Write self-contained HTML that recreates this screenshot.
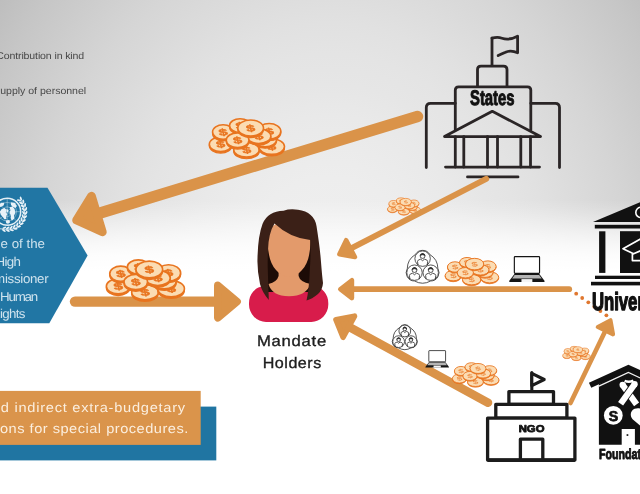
<!DOCTYPE html>
<html><head><meta charset="utf-8"><title>Extra-budgetary contributions</title>
<style>html,body{margin:0;padding:0;background:#fff;overflow:hidden}body{width:640px;height:494px;position:relative;font-family:"Liberation Sans",sans-serif}</style>
</head><body>
<svg width="640" height="494" viewBox="0 0 640 494" style="position:absolute;left:0;top:0;will-change:transform;text-rendering:geometricPrecision">
<defs>
<radialGradient id="vig" gradientUnits="userSpaceOnUse" cx="330" cy="300" r="600" gradientTransform="translate(330 300) scale(1 1.231) translate(-330 -300)"><stop offset="0.0000" stop-color="rgb(240,240,240)"/><stop offset="0.0417" stop-color="rgb(239,239,239)"/><stop offset="0.0833" stop-color="rgb(239,239,239)"/><stop offset="0.1250" stop-color="rgb(238,238,238)"/><stop offset="0.1667" stop-color="rgb(237,237,237)"/><stop offset="0.2083" stop-color="rgb(235,235,235)"/><stop offset="0.2500" stop-color="rgb(233,233,233)"/><stop offset="0.2917" stop-color="rgb(230,230,230)"/><stop offset="0.3333" stop-color="rgb(228,228,228)"/><stop offset="0.3750" stop-color="rgb(225,225,225)"/><stop offset="0.4167" stop-color="rgb(221,221,221)"/><stop offset="0.4583" stop-color="rgb(217,217,217)"/><stop offset="0.5000" stop-color="rgb(213,213,213)"/><stop offset="0.5417" stop-color="rgb(208,208,208)"/><stop offset="0.5833" stop-color="rgb(203,203,203)"/><stop offset="0.6250" stop-color="rgb(198,198,198)"/><stop offset="0.6667" stop-color="rgb(192,192,192)"/><stop offset="0.7083" stop-color="rgb(186,186,186)"/><stop offset="0.7500" stop-color="rgb(180,180,180)"/><stop offset="0.7917" stop-color="rgb(173,173,173)"/><stop offset="0.8333" stop-color="rgb(166,166,166)"/><stop offset="0.8750" stop-color="rgb(158,158,158)"/><stop offset="0.9167" stop-color="rgb(151,151,151)"/><stop offset="0.9583" stop-color="rgb(142,142,142)"/><stop offset="1.0000" stop-color="rgb(134,134,134)"/></radialGradient>
<linearGradient id="fade" gradientUnits="userSpaceOnUse" x1="0" y1="200" x2="0" y2="272"><stop offset="0.000" stop-color="#fff" stop-opacity="0"/><stop offset="0.111" stop-color="#fff" stop-opacity="0.12"/><stop offset="0.208" stop-color="#fff" stop-opacity="0.25"/><stop offset="0.347" stop-color="#fff" stop-opacity="0.45"/><stop offset="0.486" stop-color="#fff" stop-opacity="0.64"/><stop offset="0.625" stop-color="#fff" stop-opacity="0.8"/><stop offset="0.764" stop-color="#fff" stop-opacity="0.92"/><stop offset="0.903" stop-color="#fff" stop-opacity="0.98"/><stop offset="1.000" stop-color="#fff" stop-opacity="1"/></linearGradient>
<symbol id="coins" viewBox="-2 -2 81 45" overflow="visible"><ellipse cx="11.8" cy="28.200000000000003" rx="11.5" ry="7.4" fill="#e8741f" stroke="#e8741f" stroke-width="1.20"/><ellipse cx="11.8" cy="26.6" rx="11.5" ry="7.4" fill="#fbdcb3" stroke="#e8741f" stroke-width="1.6"/><text x="0" y="3.9" font-family="Liberation Sans, sans-serif" font-size="11" font-weight="bold" fill="#e8741f" fill-opacity="1.0" stroke="#e8741f" stroke-width="0.5" text-anchor="middle" transform="translate(11.8 26.6) scale(1.45 0.85) rotate(-8)">$</text><ellipse cx="38" cy="33.9" rx="13" ry="7.4" fill="#e8741f" stroke="#e8741f" stroke-width="1.20"/><ellipse cx="38" cy="32.3" rx="13" ry="7.4" fill="#fbdcb3" stroke="#e8741f" stroke-width="1.6"/><text x="0" y="3.9" font-family="Liberation Sans, sans-serif" font-size="11" font-weight="bold" fill="#e8741f" fill-opacity="1.0" stroke="#e8741f" stroke-width="0.5" text-anchor="middle" transform="translate(38 32.3) scale(1.45 0.85) rotate(-8)">$</text><ellipse cx="63.5" cy="30.6" rx="13" ry="7.9" fill="#e8741f" stroke="#e8741f" stroke-width="1.20"/><ellipse cx="63.5" cy="29" rx="13" ry="7.9" fill="#fbdcb3" stroke="#e8741f" stroke-width="1.6"/><text x="0" y="3.9" font-family="Liberation Sans, sans-serif" font-size="11" font-weight="bold" fill="#e8741f" fill-opacity="1.0" stroke="#e8741f" stroke-width="0.5" text-anchor="middle" transform="translate(63.5 29) scale(1.45 0.85) rotate(-8)">$</text><ellipse cx="57" cy="23.3" rx="11.5" ry="7.4" fill="#e8741f" stroke="#e8741f" stroke-width="1.20"/><ellipse cx="57" cy="21.7" rx="11.5" ry="7.4" fill="#fbdcb3" stroke="#e8741f" stroke-width="1.6"/><text x="0" y="3.9" font-family="Liberation Sans, sans-serif" font-size="11" font-weight="bold" fill="#e8741f" fill-opacity="1.0" stroke="#e8741f" stroke-width="0.5" text-anchor="middle" transform="translate(57 21.7) scale(1.45 0.85) rotate(-8)">$</text><ellipse cx="61" cy="15.1" rx="11.8" ry="7.9" fill="#e8741f" stroke="#e8741f" stroke-width="1.20"/><ellipse cx="61" cy="13.5" rx="11.8" ry="7.9" fill="#fbdcb3" stroke="#e8741f" stroke-width="1.6"/><text x="0" y="3.9" font-family="Liberation Sans, sans-serif" font-size="11" font-weight="bold" fill="#e8741f" fill-opacity="1.0" stroke="#e8741f" stroke-width="0.5" text-anchor="middle" transform="translate(61 13.5) scale(1.45 0.85) rotate(-8)">$</text><ellipse cx="14.3" cy="15.9" rx="10.7" ry="7.4" fill="#e8741f" stroke="#e8741f" stroke-width="1.20"/><ellipse cx="14.3" cy="14.3" rx="10.7" ry="7.4" fill="#fbdcb3" stroke="#e8741f" stroke-width="1.6"/><text x="0" y="3.9" font-family="Liberation Sans, sans-serif" font-size="11" font-weight="bold" fill="#e8741f" fill-opacity="1.0" stroke="#e8741f" stroke-width="0.5" text-anchor="middle" transform="translate(14.3 14.3) scale(1.45 0.85) rotate(-8)">$</text><ellipse cx="50.4" cy="20.0" rx="12.3" ry="7.4" fill="#e8741f" stroke="#e8741f" stroke-width="1.20"/><ellipse cx="50.4" cy="18.4" rx="12.3" ry="7.4" fill="#fbdcb3" stroke="#e8741f" stroke-width="1.6"/><text x="0" y="3.9" font-family="Liberation Sans, sans-serif" font-size="11" font-weight="bold" fill="#e8741f" fill-opacity="1.0" stroke="#e8741f" stroke-width="0.5" text-anchor="middle" transform="translate(50.4 18.4) scale(1.45 0.85) rotate(-8)">$</text><ellipse cx="31.5" cy="9.3" rx="10.7" ry="6.9" fill="#e8741f" stroke="#e8741f" stroke-width="1.20"/><ellipse cx="31.5" cy="7.7" rx="10.7" ry="6.9" fill="#fbdcb3" stroke="#e8741f" stroke-width="1.6"/><text x="0" y="3.9" font-family="Liberation Sans, sans-serif" font-size="11" font-weight="bold" fill="#e8741f" fill-opacity="1.0" stroke="#e8741f" stroke-width="0.5" text-anchor="middle" transform="translate(31.5 7.7) scale(1.45 0.85) rotate(-8)">$</text><ellipse cx="29" cy="24.1" rx="11.5" ry="7.4" fill="#e8741f" stroke="#e8741f" stroke-width="1.20"/><ellipse cx="29" cy="22.5" rx="11.5" ry="7.4" fill="#fbdcb3" stroke="#e8741f" stroke-width="1.6"/><text x="0" y="3.9" font-family="Liberation Sans, sans-serif" font-size="11" font-weight="bold" fill="#e8741f" fill-opacity="1.0" stroke="#e8741f" stroke-width="0.5" text-anchor="middle" transform="translate(29 22.5) scale(1.45 0.85) rotate(-8)">$</text><ellipse cx="42.2" cy="11.799999999999999" rx="13" ry="8.2" fill="#e8741f" stroke="#e8741f" stroke-width="1.20"/><ellipse cx="42.2" cy="10.2" rx="13" ry="8.2" fill="#fbdcb3" stroke="#e8741f" stroke-width="1.6"/><text x="0" y="3.9" font-family="Liberation Sans, sans-serif" font-size="11" font-weight="bold" fill="#e8741f" fill-opacity="1.0" stroke="#e8741f" stroke-width="0.5" text-anchor="middle" transform="translate(42.2 10.2) scale(1.45 0.85) rotate(-8)">$</text></symbol>
<symbol id="coinsS" viewBox="-2 -2 81 45" overflow="visible"><ellipse cx="11.8" cy="27.8" rx="11.5" ry="7.4" fill="#e8741f" stroke="#e8741f" stroke-width="1.01"/><ellipse cx="11.8" cy="26.6" rx="11.5" ry="7.4" fill="#fbdcb3" stroke="#e8741f" stroke-width="1.35"/><text x="0" y="3.9" font-family="Liberation Sans, sans-serif" font-size="11" font-weight="bold" fill="#e8741f" fill-opacity="0.75" stroke="#e8741f" stroke-width="0" text-anchor="middle" transform="translate(11.8 26.6) scale(1.45 0.85) rotate(-8)">$</text><ellipse cx="38" cy="33.5" rx="13" ry="7.4" fill="#e8741f" stroke="#e8741f" stroke-width="1.01"/><ellipse cx="38" cy="32.3" rx="13" ry="7.4" fill="#fbdcb3" stroke="#e8741f" stroke-width="1.35"/><text x="0" y="3.9" font-family="Liberation Sans, sans-serif" font-size="11" font-weight="bold" fill="#e8741f" fill-opacity="0.75" stroke="#e8741f" stroke-width="0" text-anchor="middle" transform="translate(38 32.3) scale(1.45 0.85) rotate(-8)">$</text><ellipse cx="63.5" cy="30.2" rx="13" ry="7.9" fill="#e8741f" stroke="#e8741f" stroke-width="1.01"/><ellipse cx="63.5" cy="29" rx="13" ry="7.9" fill="#fbdcb3" stroke="#e8741f" stroke-width="1.35"/><text x="0" y="3.9" font-family="Liberation Sans, sans-serif" font-size="11" font-weight="bold" fill="#e8741f" fill-opacity="0.75" stroke="#e8741f" stroke-width="0" text-anchor="middle" transform="translate(63.5 29) scale(1.45 0.85) rotate(-8)">$</text><ellipse cx="57" cy="22.9" rx="11.5" ry="7.4" fill="#e8741f" stroke="#e8741f" stroke-width="1.01"/><ellipse cx="57" cy="21.7" rx="11.5" ry="7.4" fill="#fbdcb3" stroke="#e8741f" stroke-width="1.35"/><text x="0" y="3.9" font-family="Liberation Sans, sans-serif" font-size="11" font-weight="bold" fill="#e8741f" fill-opacity="0.75" stroke="#e8741f" stroke-width="0" text-anchor="middle" transform="translate(57 21.7) scale(1.45 0.85) rotate(-8)">$</text><ellipse cx="61" cy="14.7" rx="11.8" ry="7.9" fill="#e8741f" stroke="#e8741f" stroke-width="1.01"/><ellipse cx="61" cy="13.5" rx="11.8" ry="7.9" fill="#fbdcb3" stroke="#e8741f" stroke-width="1.35"/><text x="0" y="3.9" font-family="Liberation Sans, sans-serif" font-size="11" font-weight="bold" fill="#e8741f" fill-opacity="0.75" stroke="#e8741f" stroke-width="0" text-anchor="middle" transform="translate(61 13.5) scale(1.45 0.85) rotate(-8)">$</text><ellipse cx="14.3" cy="15.5" rx="10.7" ry="7.4" fill="#e8741f" stroke="#e8741f" stroke-width="1.01"/><ellipse cx="14.3" cy="14.3" rx="10.7" ry="7.4" fill="#fbdcb3" stroke="#e8741f" stroke-width="1.35"/><text x="0" y="3.9" font-family="Liberation Sans, sans-serif" font-size="11" font-weight="bold" fill="#e8741f" fill-opacity="0.75" stroke="#e8741f" stroke-width="0" text-anchor="middle" transform="translate(14.3 14.3) scale(1.45 0.85) rotate(-8)">$</text><ellipse cx="50.4" cy="19.599999999999998" rx="12.3" ry="7.4" fill="#e8741f" stroke="#e8741f" stroke-width="1.01"/><ellipse cx="50.4" cy="18.4" rx="12.3" ry="7.4" fill="#fbdcb3" stroke="#e8741f" stroke-width="1.35"/><text x="0" y="3.9" font-family="Liberation Sans, sans-serif" font-size="11" font-weight="bold" fill="#e8741f" fill-opacity="0.75" stroke="#e8741f" stroke-width="0" text-anchor="middle" transform="translate(50.4 18.4) scale(1.45 0.85) rotate(-8)">$</text><ellipse cx="31.5" cy="8.9" rx="10.7" ry="6.9" fill="#e8741f" stroke="#e8741f" stroke-width="1.01"/><ellipse cx="31.5" cy="7.7" rx="10.7" ry="6.9" fill="#fbdcb3" stroke="#e8741f" stroke-width="1.35"/><text x="0" y="3.9" font-family="Liberation Sans, sans-serif" font-size="11" font-weight="bold" fill="#e8741f" fill-opacity="0.75" stroke="#e8741f" stroke-width="0" text-anchor="middle" transform="translate(31.5 7.7) scale(1.45 0.85) rotate(-8)">$</text><ellipse cx="29" cy="23.7" rx="11.5" ry="7.4" fill="#e8741f" stroke="#e8741f" stroke-width="1.01"/><ellipse cx="29" cy="22.5" rx="11.5" ry="7.4" fill="#fbdcb3" stroke="#e8741f" stroke-width="1.35"/><text x="0" y="3.9" font-family="Liberation Sans, sans-serif" font-size="11" font-weight="bold" fill="#e8741f" fill-opacity="0.75" stroke="#e8741f" stroke-width="0" text-anchor="middle" transform="translate(29 22.5) scale(1.45 0.85) rotate(-8)">$</text><ellipse cx="42.2" cy="11.399999999999999" rx="13" ry="8.2" fill="#e8741f" stroke="#e8741f" stroke-width="1.01"/><ellipse cx="42.2" cy="10.2" rx="13" ry="8.2" fill="#fbdcb3" stroke="#e8741f" stroke-width="1.35"/><text x="0" y="3.9" font-family="Liberation Sans, sans-serif" font-size="11" font-weight="bold" fill="#e8741f" fill-opacity="0.75" stroke="#e8741f" stroke-width="0" text-anchor="middle" transform="translate(42.2 10.2) scale(1.45 0.85) rotate(-8)">$</text></symbol>
</defs>
<rect width="640" height="494" fill="url(#vig)"/>
<rect width="640" height="494" fill="url(#fade)"/>
<g font-family="Liberation Sans, sans-serif">
<text transform="translate(0 58.7) scale(1.08 1)" x="-3.52" y="0" font-size="9.8" letter-spacing="-0.127" fill="#484848" >Contribution in kind</text>
<text transform="translate(0 93.5) scale(1.08 1)" x="-6.32" y="0" font-size="9.8" letter-spacing="-0.027" fill="#484848" >Supply of personnel</text>
</g>
<line x1="417.5" y1="116.5" x2="96.9" y2="214.0" stroke="#da9349" stroke-width="11.5" stroke-linecap="round"/><polygon points="76.5,220.2 91.5,196.1 102.4,231.9" fill="#da9349" stroke="#da9349" stroke-width="8.6" stroke-linejoin="round"/>
<polygon points="0,187.8 47.5,187.8 87.6,255.5 49.3,323.3 0,323.3" fill="#2176a4"/>
<g transform="translate(7.2 211.7)"><g fill="none" stroke="#e4eff6"><circle r="13.5" stroke-width="1.5"/><circle r="9.3" stroke-width="0.5" opacity="0.8"/><circle r="4.8" stroke-width="0.5" opacity="0.8"/><path d="M-13 0H13M0 -13V13M-9.2 -9.2L9.2 9.2M-9.2 9.2L9.2 -9.2" stroke-width="0.5" opacity="0.8"/><path d="M13 -12 Q19.5 -2 16.8 8 Q13 16 4 17.5 Q0 18 -8 17" stroke-width="0.9" opacity="0.9"/></g><g fill="#e9f2f8"><path d="M-5.5 -2.8 L-2.5 -3.6 L-0.6 -1.6 L-1.4 0.8 L0.2 2.4 L-1.2 4.8 L-0.8 7.2 L-2.8 7.6 L-4.4 5.2 L-6.4 3 L-7.4 0 Z"/><path d="M2.4 -4.4 L5.4 -5.2 L7.4 -2.6 L8.2 1 L6.8 4 L7 7 L4.6 9 L3.4 6.4 L3.8 3.4 L2.2 1.2 L3.2 -1.4 Z"/><path d="M3.6 -9.4 L7.4 -9 L9.8 -5.8 L8.2 -3.6 L5.6 -5 L3.8 -6.6 Z"/><path d="M-9 -5.6 L-6.4 -9 L-3 -9 L-3.4 -6.4 L-6.4 -4.8 Z"/><path d="M-0.8 -2.8 L1.2 -2 L0.8 0.6 L-0.4 0 Z"/><path d="M-1.5 8.8 L2 8.4 L3 10.6 L1 12 L-1 11.2 Z"/><ellipse cx="11.73" cy="-11.32" rx="2.1" ry="0.95" transform="rotate(-168 11.73 -11.32)"/><ellipse cx="13.67" cy="-13.20" rx="2.1" ry="0.95" transform="rotate(-108 13.67 -13.20)"/><ellipse cx="13.82" cy="-8.64" rx="2.1" ry="0.95" transform="rotate(-156 13.82 -8.64)"/><ellipse cx="16.11" cy="-10.07" rx="2.1" ry="0.95" transform="rotate(-96 16.11 -10.07)"/><ellipse cx="15.32" cy="-5.57" rx="2.1" ry="0.95" transform="rotate(-144 15.32 -5.57)"/><ellipse cx="17.85" cy="-6.50" rx="2.1" ry="0.95" transform="rotate(-84 17.85 -6.50)"/><ellipse cx="16.14" cy="-2.27" rx="2.1" ry="0.95" transform="rotate(-132 16.14 -2.27)"/><ellipse cx="18.82" cy="-2.64" rx="2.1" ry="0.95" transform="rotate(-72 18.82 -2.64)"/><ellipse cx="16.26" cy="1.14" rx="2.1" ry="0.95" transform="rotate(-120 16.26 1.14)"/><ellipse cx="18.95" cy="1.33" rx="2.1" ry="0.95" transform="rotate(-60 18.95 1.33)"/><ellipse cx="15.67" cy="4.49" rx="2.1" ry="0.95" transform="rotate(-108 15.67 4.49)"/><ellipse cx="18.26" cy="5.24" rx="2.1" ry="0.95" transform="rotate(-48 18.26 5.24)"/><ellipse cx="14.39" cy="7.65" rx="2.1" ry="0.95" transform="rotate(-96 14.39 7.65)"/><ellipse cx="16.78" cy="8.92" rx="2.1" ry="0.95" transform="rotate(-36 16.78 8.92)"/><ellipse cx="12.49" cy="10.48" rx="2.1" ry="0.95" transform="rotate(-84 12.49 10.48)"/><ellipse cx="14.55" cy="12.21" rx="2.1" ry="0.95" transform="rotate(-24 14.55 12.21)"/><ellipse cx="10.04" cy="12.84" rx="2.1" ry="0.95" transform="rotate(-72 10.04 12.84)"/><ellipse cx="11.70" cy="14.97" rx="2.1" ry="0.95" transform="rotate(-12 11.70 14.97)"/><ellipse cx="7.15" cy="14.65" rx="2.1" ry="0.95" transform="rotate(-60 7.15 14.65)"/><ellipse cx="8.33" cy="17.08" rx="2.1" ry="0.95" transform="rotate(0 8.33 17.08)"/><ellipse cx="3.94" cy="15.82" rx="2.1" ry="0.95" transform="rotate(-48 3.94 15.82)"/><ellipse cx="4.60" cy="18.44" rx="2.1" ry="0.95" transform="rotate(12 4.60 18.44)"/><ellipse cx="0.57" cy="16.29" rx="2.1" ry="0.95" transform="rotate(-36 0.57 16.29)"/><ellipse cx="0.66" cy="18.99" rx="2.1" ry="0.95" transform="rotate(24 0.66 18.99)"/><ellipse cx="-2.83" cy="16.05" rx="2.1" ry="0.95" transform="rotate(-24 -2.83 16.05)"/><ellipse cx="-3.30" cy="18.71" rx="2.1" ry="0.95" transform="rotate(36 -3.30 18.71)"/></g></g>
<g font-family="Liberation Sans, sans-serif">
<text transform="translate(0 248.2) scale(1.04 1)" x="-25.66" y="0" font-size="12.8" letter-spacing="0.013" fill="#cfe3ee" >Office of the</text>
<text transform="translate(0 265.5) scale(1.04 1)" x="-4.33" y="0" font-size="12.8" letter-spacing="-0.602" fill="#cfe3ee" >High</text>
<text transform="translate(0 283.1) scale(1.04 1)" x="-31.81" y="0" font-size="12.8" letter-spacing="-0.296" fill="#cfe3ee" >Commissioner</text>
<text transform="translate(0 300.6) scale(1.04 1)" x="-13.67" y="0" font-size="12.8" letter-spacing="-1.181" fill="#cfe3ee" >for Human</text>
<text transform="translate(0 317.6) scale(1.04 1)" x="-8.45" y="0" font-size="12.8" letter-spacing="-0.702" fill="#cfe3ee" >Rights</text>
</g>
<line x1="75.0" y1="301.6" x2="217.8" y2="301.6" stroke="#da9349" stroke-width="10.4" stroke-linecap="round"/><polygon points="237.1,301.6 217.8,317.8 217.8,285.4" fill="#da9349" stroke="#da9349" stroke-width="7.6" stroke-linejoin="round"/>
<use href="#coins" x="104" y="257" width="83" height="46.1"/>
<use href="#coins" x="207" y="116" width="80" height="44.4"/>
<g><path d="M249 303.2 A14.5 16.6 0 0 1 263.5 286.6 H313.8 A14.5 16.6 0 0 1 328.3 303.2 V304.4 A17 17.5 0 0 1 311.3 321.9 H266 A17 17.5 0 0 1 249 304.4 Z" fill="#d81c4b"/><path d="M266 240 H316 V292 H266 Z" fill="#1c0b06"/><path d="M278.6 262 V276 Q277 282 268.5 284 Q272 296.3 289 296.3 Q306 296.3 310.5 284 Q300 282 298.6 276 V262 Z" fill="#e39a6b"/><path d="M267.5 240 Q267 222 289 221 Q311 222 310.5 242 Q310 262 302 270 Q296 277 289 277 Q282 277 276 270 Q268 262 267.5 240 Z" fill="#e39a6b"/><path d="M283.5 210.8 Q290 208.5 298 209.8 Q314 212 316.5 226 Q320 248 321 262 Q322 275 323 283 Q322.5 290 318 294 Q312 299 306.5 300.5 Q309 290 309.8 270 Q311 252 310.2 240 Q290 238 274.5 223.5 Q268.5 233 268 250 Q267.5 262 267.8 270 Q268.5 290 268.8 300 Q262 292 260 284 Q257 270 257.5 258 Q258 236 262.5 224 Q268 211 283.5 210.8 Z" fill="#3b2017"/></g>
<g font-family="Liberation Sans, sans-serif" stroke="#1e1e1e" stroke-width="0.35">
<text transform="translate(0 345.8) scale(1.1 1)" x="233.55" y="0" font-size="15.2" letter-spacing="0.656" fill="#1e1e1e" >Mandate</text>
<text transform="translate(0 367.7) scale(1.06 1)" x="247.83" y="0" font-size="15.2" letter-spacing="0.484" fill="#1e1e1e" >Holders</text>
</g>
<rect x="0" y="406.6" width="216.3" height="53.8" fill="#2075a2"/>
<rect x="0" y="390.9" width="200.7" height="54" fill="#da944b"/>
<g font-family="Liberation Sans, sans-serif">
<text transform="translate(0 412) scale(1.1 1)" x="-15.51" y="0" font-size="13.3" letter-spacing="0.676" fill="#fbeede" >and indirect extra-budgetary</text>
<text transform="translate(0 432.6) scale(1.1 1)" x="-58.39" y="0" font-size="13.3" letter-spacing="0.442" fill="#fbeede" >contributions for special procedures.</text>
</g>
<line x1="569.2" y1="289.2" x2="351.9" y2="289.2" stroke="#da9349" stroke-width="5.8" stroke-linecap="round"/><polygon points="340.3,289.2 351.9,280.2 351.9,298.1" fill="#da9349" stroke="#da9349" stroke-width="4.6" stroke-linejoin="round"/>
<line x1="488.0" y1="402.7" x2="348.8" y2="326.7" stroke="#da9349" stroke-width="8.6" stroke-linecap="round"/><polygon points="336.0,319.8 354.5,316.2 343.1,337.2" fill="#da9349" stroke="#da9349" stroke-width="5.6" stroke-linejoin="round"/>
<line x1="570.5" y1="403.0" x2="605.4" y2="330.7" stroke="#da9349" stroke-width="4.6" stroke-linecap="round"/><polygon points="610.5,320.2 613.1,334.4 597.7,327.0" fill="#da9349" stroke="#da9349" stroke-width="4.0" stroke-linejoin="round"/>
<g fill="#e0772f"><circle cx="576.2" cy="293.7" r="1.9"/><circle cx="582.2" cy="298.0" r="1.9"/><circle cx="588.3" cy="302.3" r="1.9"/><circle cx="594.3" cy="306.7" r="1.9"/><circle cx="600.4" cy="311.0" r="1.9"/><circle cx="606.4" cy="315.3" r="1.9"/></g>
<use href="#coinsS" x="386.5" y="196.6" width="35.2" height="19.6"/>
<use href="#coinsS" x="562.0" y="345.3" width="29" height="16.1"/>
<use href="#coinsS" x="443.5" y="255.5" width="57" height="31.7"/>
<use href="#coinsS" x="451" y="361" width="49.5" height="27.5"/>
<path d="M429.79 254.50Q437.74 259.26 437.89 268.53A8.30 8.30 0 0 1 430.70 280.98Q422.60 285.49 414.50 280.98A8.30 8.30 0 0 1 407.31 268.53Q407.46 259.26 415.41 254.50A8.30 8.30 0 0 1 429.79 254.50Z" fill="#fff" fill-opacity="0.6" stroke="#2a2a2a" stroke-width="0.8"/><g transform="translate(422.6 258.649) scale(1.102)" fill="none" stroke="#2a2a2a" stroke-width="0.73"><circle r="7" fill="#fff"/><circle cx="0" cy="-2.4" r="2.2"/><path d="M-2.2 -3 Q0 -6.2 2.2 -3 Q0 -4.2 -2.2 -3Z" fill="#2a2a2a"/><path d="M-4.2 6 L-4.6 2.4 Q-4.4 0.9 -1.7 0.5 L0 1.9 L1.7 0.5 Q4.4 0.9 4.6 2.4 L4.2 6"/></g><g transform="translate(430.69883200000004 272.67699999999996) scale(1.102)" fill="none" stroke="#2a2a2a" stroke-width="0.73"><circle r="7" fill="#fff"/><circle cx="0" cy="-2.4" r="2.2"/><path d="M-2.2 -3 Q0 -6.2 2.2 -3 Q0 -4.2 -2.2 -3Z" fill="#2a2a2a"/><path d="M-4.2 6 L-4.6 2.4 Q-4.4 0.9 -1.7 0.5 L0 1.9 L1.7 0.5 Q4.4 0.9 4.6 2.4 L4.2 6"/></g><g transform="translate(414.501168 272.67699999999996) scale(1.102)" fill="none" stroke="#2a2a2a" stroke-width="0.73"><circle r="7" fill="#fff"/><circle cx="0" cy="-2.4" r="2.2"/><path d="M-2.2 -3 Q0 -6.2 2.2 -3 Q0 -4.2 -2.2 -3Z" fill="#2a2a2a"/><path d="M-4.2 6 L-4.6 2.4 Q-4.4 0.9 -1.7 0.5 L0 1.9 L1.7 0.5 Q4.4 0.9 4.6 2.4 L4.2 6"/></g>
<path d="M410.27 327.81Q416.32 331.43 416.43 338.48A6.31 6.31 0 0 1 410.96 347.95Q404.80 351.38 398.64 347.95A6.31 6.31 0 0 1 393.17 338.48Q393.28 331.43 399.33 327.81A6.31 6.31 0 0 1 410.27 327.81Z" fill="#fff" fill-opacity="0.6" stroke="#2a2a2a" stroke-width="0.8"/><g transform="translate(404.8 330.96899999999994) scale(0.838)" fill="none" stroke="#2a2a2a" stroke-width="0.95"><circle r="7" fill="#fff"/><circle cx="0" cy="-2.4" r="2.2"/><path d="M-2.2 -3 Q0 -6.2 2.2 -3 Q0 -4.2 -2.2 -3Z" fill="#2a2a2a"/><path d="M-4.2 6 L-4.6 2.4 Q-4.4 0.9 -1.7 0.5 L0 1.9 L1.7 0.5 Q4.4 0.9 4.6 2.4 L4.2 6"/></g><g transform="translate(410.958992 341.63699999999994) scale(0.838)" fill="none" stroke="#2a2a2a" stroke-width="0.95"><circle r="7" fill="#fff"/><circle cx="0" cy="-2.4" r="2.2"/><path d="M-2.2 -3 Q0 -6.2 2.2 -3 Q0 -4.2 -2.2 -3Z" fill="#2a2a2a"/><path d="M-4.2 6 L-4.6 2.4 Q-4.4 0.9 -1.7 0.5 L0 1.9 L1.7 0.5 Q4.4 0.9 4.6 2.4 L4.2 6"/></g><g transform="translate(398.641008 341.63699999999994) scale(0.838)" fill="none" stroke="#2a2a2a" stroke-width="0.95"><circle r="7" fill="#fff"/><circle cx="0" cy="-2.4" r="2.2"/><path d="M-2.2 -3 Q0 -6.2 2.2 -3 Q0 -4.2 -2.2 -3Z" fill="#2a2a2a"/><path d="M-4.2 6 L-4.6 2.4 Q-4.4 0.9 -1.7 0.5 L0 1.9 L1.7 0.5 Q4.4 0.9 4.6 2.4 L4.2 6"/></g>
<g transform="translate(508.75 255.5) scale(1.000)"><rect x="5.6" y="1.05" width="25.2" height="16.75" rx="0.7" fill="#fff" stroke="#151515" stroke-width="1.15"/><path d="M5.7 18.6 H30.6 L35.9 25.6 Q36.1 26.6 35.1 26.6 H1.2 Q0.2 26.6 0.4 25.6 Z" fill="#151515"/><path d="M5.9 19.4 H30.4 L32.9 23 H3.4 Z" fill="#b4b4b4"/><path d="M12.7 23.6 H23.6 V26.6 H12.7 Z" fill="#f4f4f4"/></g>
<g transform="translate(425.1 349.9) scale(0.665)"><rect x="5.6" y="1.05" width="25.2" height="16.75" rx="0.7" fill="#fff" stroke="#151515" stroke-width="1.15"/><path d="M5.7 18.6 H30.6 L35.9 25.6 Q36.1 26.6 35.1 26.6 H1.2 Q0.2 26.6 0.4 25.6 Z" fill="#151515"/><path d="M5.9 19.4 H30.4 L32.9 23 H3.4 Z" fill="#b4b4b4"/><path d="M12.7 23.6 H23.6 V26.6 H12.7 Z" fill="#f4f4f4"/></g>
<g transform="translate(0 0.6)" fill="none" stroke="#2a2526" stroke-width="2.8" stroke-linecap="round" stroke-linejoin="round"><path d="M492 65 V37.5"/><path d="M492 37.6 Q497.5 36 502 37.6 Q509 40 517.6 35.6 V52.2 Q511 49 505.5 51.6 Q501 53.6 498.2 55" /><path d="M477.5 86 V69 Q477.5 65.5 481 65.5 H503.5 Q507 65.5 507 69 V86"/><path d="M455.3 129.5 V89.5 Q455.3 86.2 458.6 86.2 H527.5 Q530.8 86.2 530.8 89.5 V129.5"/><path d="M455.3 102.7 H430.5 Q426.3 102.7 426.3 107 V167"/><path d="M530.8 102.7 H555.3 Q559.5 102.7 559.5 107 V167"/><path d="M444.5 136 L492.3 110.7 L540.5 136 Z"/><path d="M455.3 136 V166.5 M463.8 136 V166.5 M487.5 136 V166.5 M497.5 136 V166.5 M520.8 136 V166.5 M530.5 136 V166.5"/><path d="M445.5 166.5 H539.5"/><path d="M467.5 176.3 H518"/></g>
<text x="470" y="105.3" font-family="Liberation Sans, sans-serif" font-weight="bold" font-size="21.2" fill="#111" textLength="44.6" lengthAdjust="spacingAndGlyphs" stroke="#111" stroke-width="1.0" stroke-linejoin="round">States</text>
<line x1="486.2" y1="178.8" x2="350.6" y2="248.6" stroke="#da9349" stroke-width="5.9" stroke-linecap="round"/><polygon points="339.4,254.3 346.2,240.2 354.9,257.0" fill="#da9349" stroke="#da9349" stroke-width="4.6" stroke-linejoin="round"/>
<g fill="#111"><path d="M593 222 L640 202.3 V222 Z"/><rect x="594.8" y="224.8" width="46" height="3.7"/><rect x="599.1" y="231.3" width="6.3" height="41.6"/><rect x="620" y="231.2" width="20" height="41.8"/><rect x="595" y="275.7" width="46" height="3.3"/><rect x="591" y="281.8" width="50" height="3.6"/></g>
<circle cx="641" cy="212.4" r="5.2" fill="none" stroke="#fff" stroke-width="1.6"/>
<path d="M641 238.6 L623 248.7 L633.6 253.8 L641 250.6 M632.4 253.6 V260.6 H641" fill="none" stroke="#fff" stroke-width="1.7" stroke-linejoin="round"/>
<text transform="translate(591.9 309.7) scale(0.668 1)" font-family="Liberation Sans, sans-serif" font-weight="bold" font-size="25" fill="#111" stroke="#111" stroke-width="1.4" stroke-linejoin="round">Universities</text>
<g fill="#fff" stroke="#1c1c1c" stroke-width="3.3" stroke-linejoin="round"><path d="M531.8 391 V372.6" stroke-width="3.1" stroke-linecap="round"/><path d="M531.8 373.4 L544.2 379.5 L531.8 385.6 Z" stroke-width="3.1"/><rect x="508.9" y="391.6" width="44.6" height="12.7"/><rect x="495.8" y="404.3" width="71.1" height="13.8"/><rect x="487.6" y="418.1" width="87.3" height="42"/><rect x="520.4" y="439.2" width="22.4" height="20.9"/><path d="M487.6 460.2 H574.9" stroke-width="3.7"/></g>
<text x="518.7" y="432.2" font-family="Liberation Sans, sans-serif" font-weight="bold" font-size="9.9" fill="#111" textLength="25.8" lengthAdjust="spacingAndGlyphs" stroke="#111" stroke-width="0.8" stroke-linejoin="round">NGO</text>
<g><path d="M598.9 444.7 V384 L628.4 368 L660 384 V444.7 Z" fill="#111"/><path d="M590.1 385.3 L628.4 367.8 L666.7 385.3" stroke="#111" stroke-width="5.6" fill="none" stroke-linejoin="miter"/><path d="M598.9 386.2 L628.4 372.5 L658 386.2" stroke="#f2f2f2" stroke-width="1.3" fill="none"/><circle cx="613.3" cy="415.4" r="9.4" fill="#fff"/><text x="613.6" y="420.6" font-family="Liberation Sans, sans-serif" font-weight="bold" font-size="14.2" fill="#111" stroke="#111" stroke-width="0.7" text-anchor="middle">S</text><path d="M622.2 384.4 L636.6 404.4" stroke="#fff" stroke-width="6.2" fill="none"/><circle cx="622.6" cy="384.8" r="3.1" fill="#fff"/><path d="M635.2 383.4 L621.0 403" stroke="#111" stroke-width="7.8" fill="none"/><path d="M634.8 384 L620.6 403.8" stroke="#fff" stroke-width="6.2" fill="none"/><circle cx="634.6" cy="384.2" r="3.1" fill="#fff"/><path d="M624.6 380.9 Q628.9 382.6 633.4 380.7" stroke="#fff" stroke-width="2.6" fill="none"/><path d="M648 432.5 L632.6 419.2 C629.6 416 630.3 410.6 634.6 408.8 C638.6 407.2 642.5 408.6 645 412 V432.5 Z" fill="#fff"/><rect x="621.7" y="429" width="13.2" height="16" fill="#fff"/><rect x="626.6" y="434.2" width="1.7" height="1.7" fill="#111"/></g>
<text transform="translate(599.0 459.4) scale(0.735 1)" font-family="Liberation Sans, sans-serif" font-weight="bold" font-size="14.5" fill="#111" stroke="#111" stroke-width="0.9" stroke-linejoin="round">Foundations</text>
</svg>
</body></html>
